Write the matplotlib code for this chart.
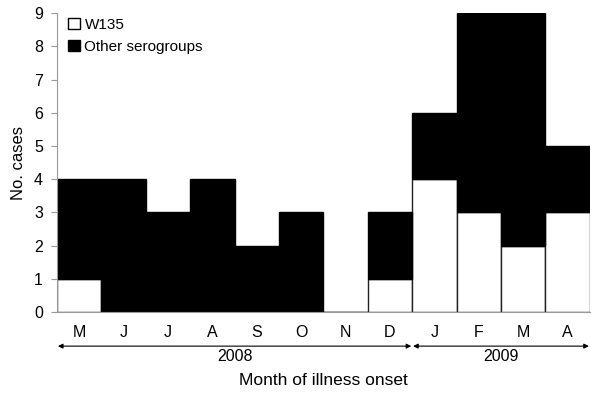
import numpy as np
import matplotlib
matplotlib.use("Agg")
import matplotlib.pyplot as plt
from matplotlib.patches import Patch

months = ["M", "J", "J", "A", "S", "O", "N", "D", "J", "F", "M", "A"]
w135 = [1, 0, 0, 0, 0, 0, 0, 1, 4, 3, 2, 3]
other = [3, 4, 3, 4, 2, 3, 0, 2, 2, 6, 7, 2]
years = ["2008", "2009"]
year_spans = [(0, 8), (8, 12)]  # month index ranges

plt.rcParams['font.family'] = ['Liberation Sans', 'DejaVu Sans']

fig = plt.figure(figsize=(6, 3.96), dpi=100)
ax = fig.add_axes([0.095, 0.212, 0.888, 0.755])

x = np.arange(len(months))
ax.bar(x, w135, width=1.0, color="white", edgecolor="#222222", linewidth=1.0)
ax.bar(x, other, width=1.0, bottom=w135, color="black", edgecolor="black", linewidth=1.0)

ax.set_xlim(-0.5, len(months) - 0.5)
ax.set_ylim(0, 9)
ax.set_yticks(range(10))
ax.set_xticks(x)
ax.set_xticklabels(months, fontsize=11.5)
ax.tick_params(axis="x", length=0, pad=9)
ax.tick_params(axis="y", length=4, color="#999999", labelsize=11.5, direction="out", pad=6)
ax.set_ylabel("No. cases", fontsize=12, labelpad=6)

for s in ["top", "right"]:
    ax.spines[s].set_visible(False)
ax.spines["left"].set_color("#999999")
ax.spines["bottom"].set_color("#999999")

# year arrows below month labels
for label, (a, b) in zip(years, year_spans):
    ax.annotate("", xy=(a - 0.48, -0.114), xytext=(b - 0.52, -0.114),
                xycoords=("data", "axes fraction"), textcoords=("data", "axes fraction"),
                arrowprops=dict(arrowstyle="<|-|>", color="black", lw=0.8,
                                mutation_scale=7, shrinkA=0, shrinkB=0),
                annotation_clip=False)
    ax.text((a + b - 1) / 2, -0.15, label, transform=ax.get_xaxis_transform(),
            ha="center", va="center", fontsize=11.5)

fig.text(0.095 + 0.888 / 2, 0.04, "Month of illness onset", ha="center", va="center", fontsize=12.5)

handles = [Patch(facecolor="white", edgecolor="black", label="W135"),
           Patch(facecolor="black", edgecolor="black", label="Other serogroups")]
ax.legend(handles=handles, loc="upper left", bbox_to_anchor=(0.0, 1.02), frameon=False,
          fontsize=11, handlelength=0.8, handleheight=0.8, handletextpad=0.3,
          labelspacing=0.5, borderaxespad=0.3)

fig.savefig("out.png", dpi=100)
